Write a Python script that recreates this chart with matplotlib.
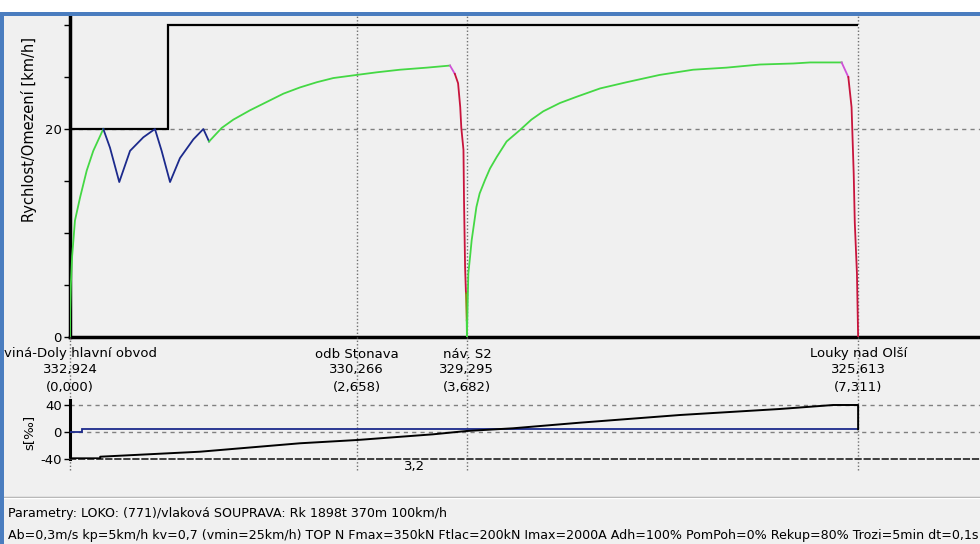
import matplotlib
matplotlib.use("Agg")
import matplotlib.pyplot as plt
from matplotlib.patches import Rectangle
from matplotlib.lines import Line2D

# ---- track / stations ----
station_names = ["Karviná-Doly hlavní obvod", "odb Stonava", "náv. S2", "Louky nad Olší"]
station_chainage = ["332,924", "330,266", "329,295", "325,613"]
station_dist = [0.000, 2.658, 3.682, 7.311]

# speed limit (km/h) over distance sections (km)
limit_edges = [0.0, 0.91, 7.311]
limit_values = [20, 30]

# ---- simulated speed profile (km, km/h) per driving mode ----
accel1_km = [0.0, 0.002, 0.008, 0.02, 0.046, 0.093, 0.155, 0.216, 0.309]
accel1_v = [0.0, 2.5, 5.0, 7.8, 11.2, 13.4, 16.0, 17.9, 20.0]

hold_km = [0.309, 0.371, 0.457, 0.557, 0.68, 0.788, 0.85, 0.928, 1.02, 1.144, 1.237, 1.29]
hold_v = [20.0, 18.2, 14.9, 17.9, 19.2, 20.0, 17.9, 14.9, 17.2, 19.0, 20.0, 18.8]

accel2_km = [1.29, 1.407, 1.515, 1.67, 1.825, 1.98, 2.134, 2.29, 2.443, 2.66, 2.845,
             3.06, 3.31, 3.525]
accel2_v = [18.8, 20.1, 20.9, 21.8, 22.6, 23.4, 24.0, 24.5, 24.9, 25.2, 25.45,
            25.7, 25.9, 26.1]

coast1_km = [3.525, 3.57]
coast1_v = [26.1, 25.3]

brake1_km = [3.57, 3.60, 3.62, 3.63, 3.65, 3.655, 3.665, 3.673]
brake1_v = [25.3, 24.4, 22.1, 20.1, 18.0, 13.2, 6.7, 4.2]

stop1_km = [3.673, 3.68, 3.682]
stop1_v = [4.2, 1.6, 0.0]

accel3_km = [3.682, 3.695, 3.711, 3.726, 3.77, 3.80, 3.85, 3.896, 3.958, 4.05, 4.174,
             4.28, 4.39, 4.545, 4.70, 4.917, 5.164, 5.47, 5.78, 6.09, 6.40, 6.71,
             6.865, 7.158]
accel3_v = [0.0, 6.1, 7.7, 9.3, 12.5, 13.8, 15.1, 16.2, 17.3, 18.8, 19.9,
            20.9, 21.7, 22.5, 23.1, 23.9, 24.5, 25.2, 25.7, 25.9, 26.2, 26.3,
            26.4, 26.4]

coast2_km = [7.158, 7.22]
coast2_v = [26.4, 25.0]

brake2_km = [7.22, 7.25, 7.27, 7.28, 7.30, 7.311]
brake2_v = [25.0, 22.1, 15.7, 11.0, 6.1, 0.0]

# ---- gradient panel (‰) ----
grade_edges = [0.0, 0.108, 7.311]
grade_values = [0.0, 4.0]

profile_km = [0.0, 0.28, 0.28, 1.206, 2.134, 2.66, 3.37, 3.68, 4.11, 4.73, 5.66, 6.586, 7.08, 7.311, 7.311]
profile_val = [-39.0, -39.0, -36.6, -29.2, -16.7, -11.9, -3.4, 1.5, 5.5, 13.8, 25.2, 34.1, 40.0, 40.0, 4.0]

grade_tick_km = [3.2]
grade_tick_lbl = ["3,2"]

param_line1 = "Parametry: LOKO: (771)/vlaková SOUPRAVA: Rk 1898t 370m 100km/h"
param_line2 = ("Ab=0,3m/s kp=5km/h kv=0,7 (vmin=25km/h) TOP N Fmax=350kN Ftlac=200kN "
               "Imax=2000A Adh=100% PomPoh=0% Rekup=80% Trozi=5min dt=0,1s")

W, H = 980, 544
BG = "#f0f0f0"
FS = 9.5
plt.rcParams["font.family"] = ["DejaVu Sans"]


def box(x0, y0, x1, y1):
    """Figure rectangle from pixel edges (y measured from top)."""
    return [x0 / W, 1 - y1 / H, (x1 - x0) / W, (y1 - y0) / H]


fig = plt.figure(figsize=(W / 100, H / 100), dpi=100, facecolor=BG)

X_MAX = 910 / 107.8

# ---------- speed panel ----------
ax = fig.add_axes(box(70, 16, 980, 337))
ax.set_facecolor(BG)
ax.set_xlim(0, X_MAX)
ax.set_ylim(0, 321 / 10.4)
for s in ("top", "right"):
    ax.spines[s].set_visible(False)
ax.spines["left"].set_linewidth(2.5)
ax.spines["bottom"].set_linewidth(2.5)
ax.set_xticks([])
ax.set_yticks([0, 20])
ax.set_yticklabels(["0", "20"], fontsize=FS)
ax.set_yticks([5, 10, 15, 25, 30], minor=True)
ax.tick_params(axis="y", which="both", length=4, width=1, pad=2, colors="#000000")

ax.axhline(20, color="#808080", lw=1, ls=(0, (3, 3)), zorder=1)
for d in station_dist[1:]:
    ax.axvline(d, color="#707070", lw=1, ls=(0, (1, 1.5)), zorder=1)

ax.stairs(limit_values, limit_edges, baseline=None, color="black", lw=1.6, zorder=3)

green = "#44d844"
ax.plot(accel1_km, accel1_v, color=green, lw=1.3, zorder=4)
ax.plot(hold_km, hold_v, color="#1c2a8c", lw=1.3, zorder=4)
ax.plot(accel2_km, accel2_v, color=green, lw=1.3, zorder=4)
ax.plot(coast1_km, coast1_v, color="#d050d8", lw=1.3, zorder=4)
ax.plot(brake1_km, brake1_v, color="#c8143c", lw=1.3, zorder=4)
ax.plot(stop1_km[:2], stop1_v[:2], color="#8a8a10", lw=1.3, zorder=4)
ax.plot(stop1_km[1:], stop1_v[1:], color=green, lw=1.3, zorder=4)
ax.plot(accel3_km, accel3_v, color=green, lw=1.3, zorder=4)
ax.plot(coast2_km, coast2_v, color="#d050d8", lw=1.3, zorder=4)
ax.plot(brake2_km, brake2_v, color="#c8143c", lw=1.3, zorder=4)

fig.text(29 / W, 1 - 130 / H, "Rychlost/Omezení [km/h]", rotation=90,
         ha="center", va="center", fontsize=10.5)

# ---------- gradient panel with station captions ----------
gx = fig.add_axes(box(70, 337, 980, 459))
gx.set_facecolor("none")
px = 0.675
gx.set_xlim(0, X_MAX)
gx.set_ylim(-40, -40 + 122 / px)
for s in ("top", "right"):
    gx.spines[s].set_visible(False)
gx.spines["left"].set_linewidth(2.2)
gx.spines["left"].set_bounds(-40, 47)
gx.spines["bottom"].set_linewidth(1.3)
gx.spines["bottom"].set_color("#303030")
gx.spines["bottom"].set_linestyle((0, (3, 2)))
gx.set_yticks([-40, 0, 40])
gx.set_yticklabels(["-40", "0", "40"], fontsize=FS)
gx.tick_params(axis="y", length=4, width=1, pad=2)
gx.set_xticks(grade_tick_km)
gx.set_xticklabels(grade_tick_lbl, fontsize=FS)
gx.tick_params(axis="x", length=0, pad=1)

for yv in (40, 0):
    gx.axhline(yv, color="#808080", lw=1, ls=(0, (3, 3)), zorder=1)
for d in station_dist:
    gx.axvline(d, ymin=-0.09, ymax=1, color="#707070", lw=1,
               ls=(0, (1, 1.5)), zorder=1, clip_on=False)

gx.stairs(grade_values, grade_edges, baseline=None, color="#1c2a8c", lw=1.3, zorder=3)
gx.plot(profile_km, profile_val, color="black", lw=1.4, zorder=4)

for name, ch, d in zip(station_names, station_chainage, station_dist):
    dist_txt = "({:.3f})".format(d).replace(".", ",")
    gx.text(d, -40 + (459 - 354) / px, name, ha="center", va="center",
            fontsize=FS, clip_on=False)
    gx.text(d, -40 + (459 - 370) / px, ch, ha="center", va="center",
            fontsize=FS, clip_on=False)
    gx.text(d, -40 + (459 - 387) / px, dist_txt, ha="center", va="center",
            fontsize=FS, clip_on=False)

fig.text(29 / W, 1 - 432 / H, "s[‰]", rotation=90, ha="center", va="center",
         fontsize=FS)

# ---------- parameter footer ----------
fig.add_artist(Line2D([4 / W, 1], [1 - 497 / H] * 2, color="#a8a8a8", lw=1))
fig.add_artist(Line2D([4 / W, 1], [1 - 498 / H] * 2, color="#ffffff", lw=1))
fig.text(8 / W, 1 - 514 / H, param_line1, ha="left", va="center", fontsize=9.1)
fig.text(8 / W, 1 - 535 / H, param_line2, ha="left", va="center", fontsize=9.1)

# ---------- window frame ----------
fig.add_artist(Rectangle((0, 1 - 12 / H), 1, 12 / H, transform=fig.transFigure,
                         facecolor="white", edgecolor="none", zorder=20))
fig.add_artist(Rectangle((0, 1 - 16 / H), 1, 4 / H, transform=fig.transFigure,
                         facecolor="#4a7dbf", edgecolor="none", zorder=21))
fig.add_artist(Rectangle((0, 0), 4 / W, 1 - 12 / H, transform=fig.transFigure,
                         facecolor="#4a7dbf", edgecolor="none", zorder=21))

fig.savefig("out.png", dpi=100, facecolor=BG)
